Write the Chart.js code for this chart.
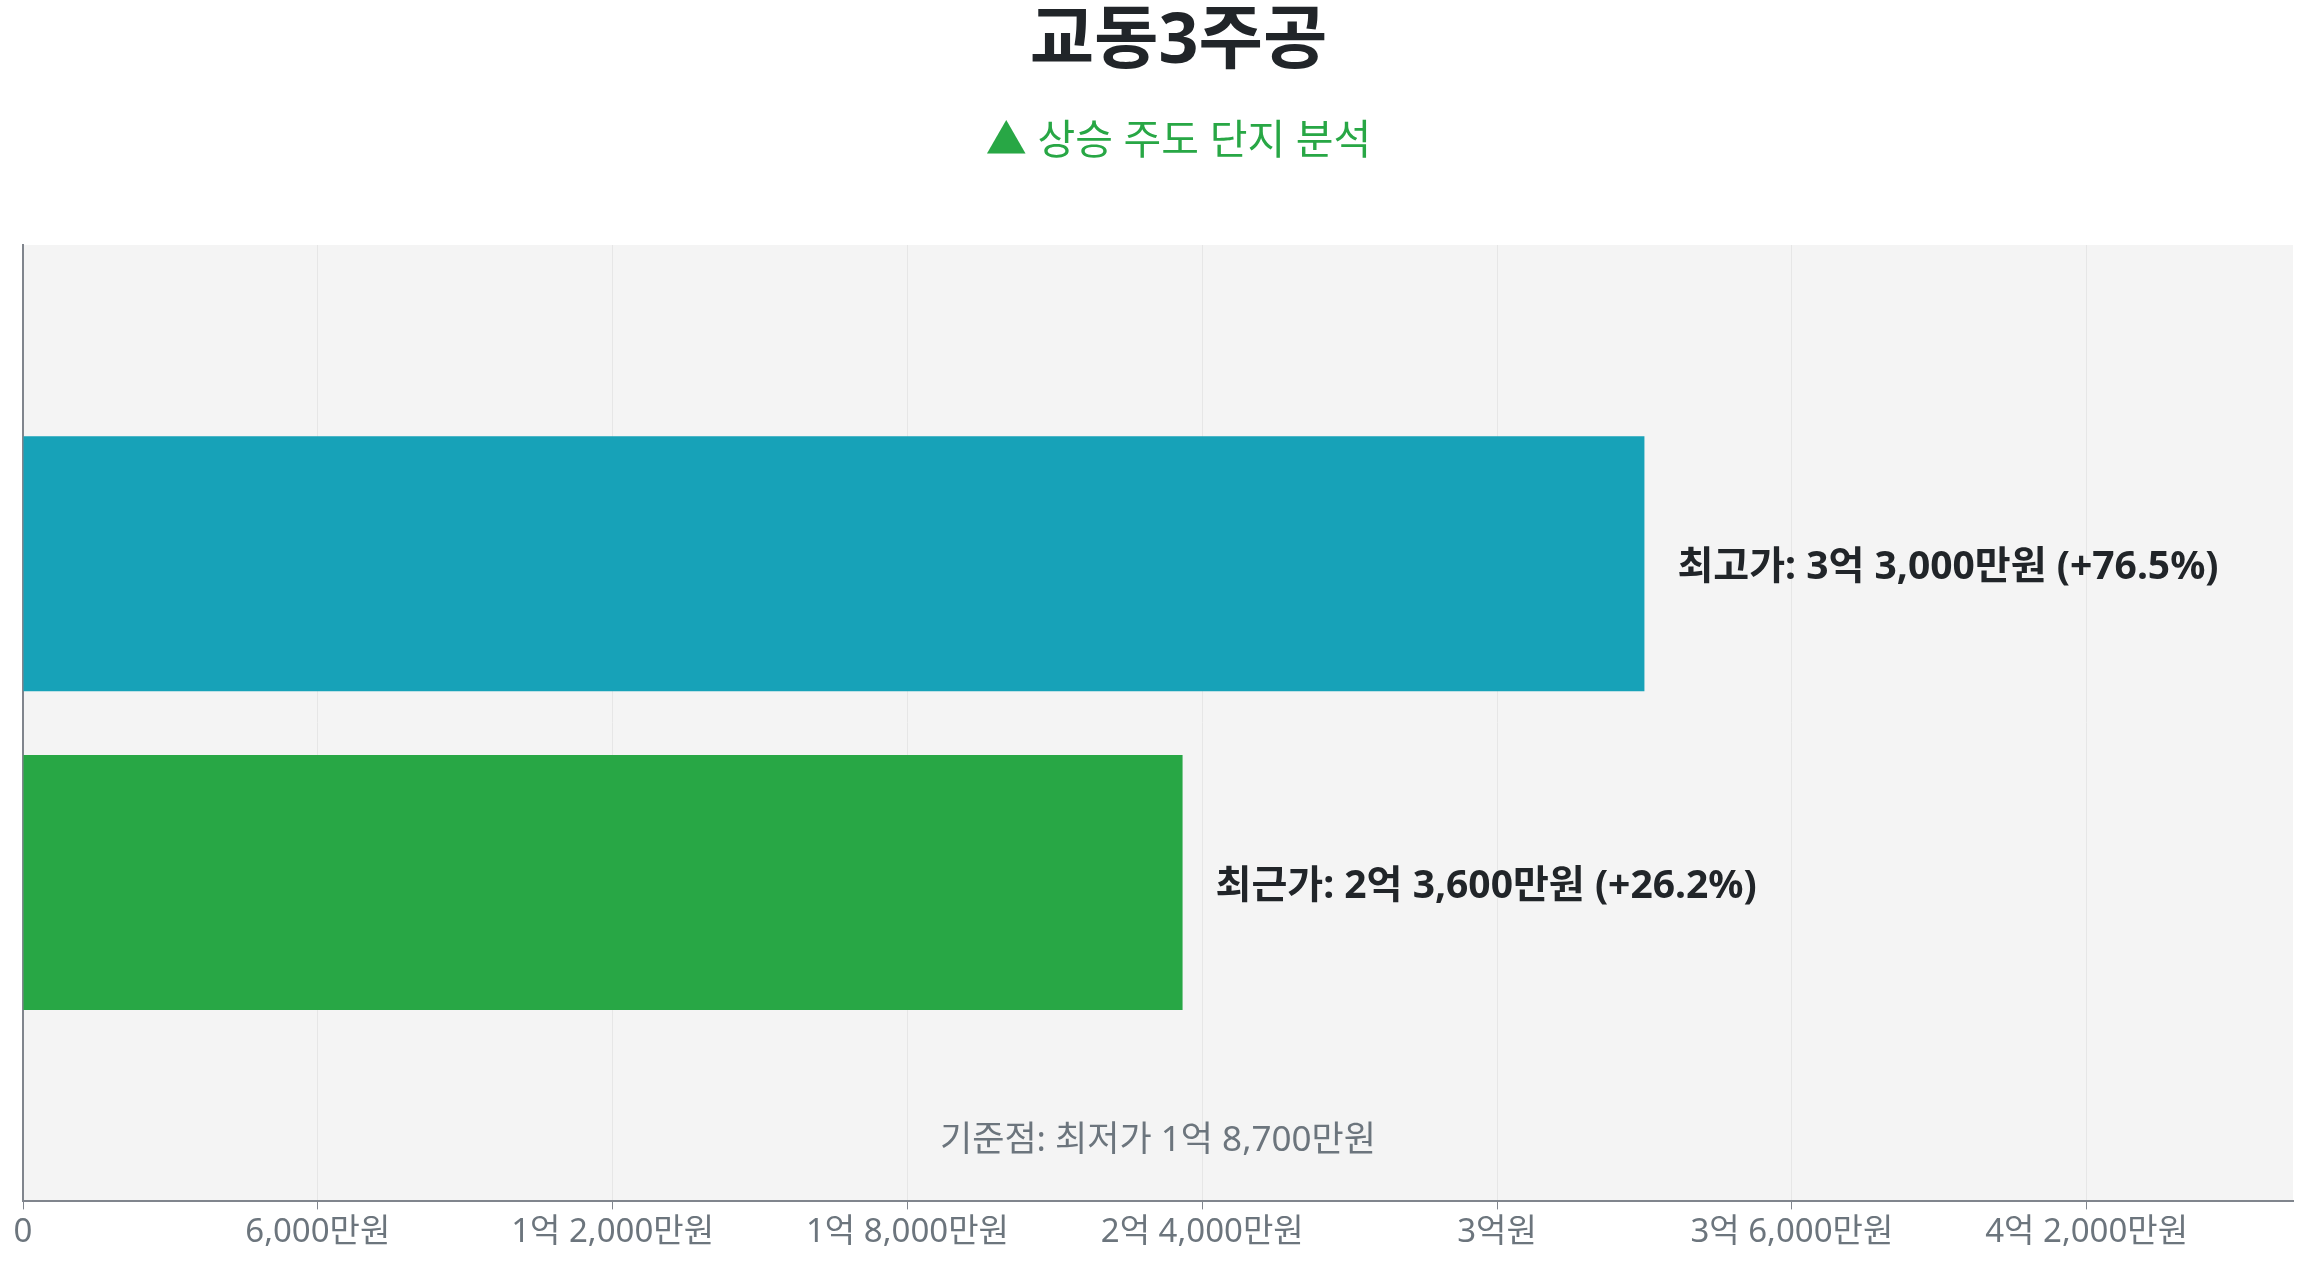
<!DOCTYPE html>
<html lang="ko">
<head>
<meta charset="utf-8">
<title>교동3주공</title>
<script src="https://cdn.jsdelivr.net/npm/chart.js@4.4.1/dist/chart.umd.min.js"></script>
<style>
  html, body { margin: 0; padding: 0; background: #fff; overflow: hidden; }
  #wrap { position: relative; width: 2307px; height: 1268px; }
</style>
</head>
<body>
<div id="wrap"><canvas id="priceChart"></canvas></div>
<script>
// 데이터 (단위: 만원)
const complexName = '교동3주공';
const subtitleText = '▲ 상승 주도 단지 분석';
const categories = ['최고가', '최근가'];
const prices = [33000, 23600];
const barColors = ['#17a2b8', '#28a745'];
const basePrice = 18700;          // 최저가 (기준점)
const axisMax = 46200;
const tickValues = [0, 6000, 12000, 18000, 24000, 30000, 36000, 42000];

const FONT = "'Noto Sans', 'Noto Sans CJK KR', sans-serif";
const GRAY = '#6c757d';
const AXIS = '#80858d';

function formatWon(v) {
    if (v === 0) return '0';
    const eok = Math.floor(v / 10000);
    const man = v % 10000;
    if (eok === 0) return man.toLocaleString('ko-KR') + '만원';
    if (man === 0) return eok + '억원';
    return eok + '억 ' + man.toLocaleString('ko-KR') + '만원';
}

function changePct(v) {
    const p = (v - basePrice) / basePrice * 100;
    return (p >= 0 ? '+' : '') + p.toFixed(1) + '%';
}

// 위아래 여백용 빈 칸을 둔 카테고리
const labels = ['', ...categories, ''];
const data = [null, ...prices, null];
const colors = ['transparent', ...barColors, 'transparent'];

const areaBackground = {
    id: 'areaBackground',
    beforeDraw(chart) {
        const { ctx, chartArea: a } = chart;
        ctx.save();
        ctx.fillStyle = '#f4f4f4';
        ctx.fillRect(a.left, a.top, a.right - a.left, a.bottom - a.top);
        ctx.restore();
    }
};

const headerText = {
    id: 'headerText',
    afterDraw(chart) {
        const ctx = chart.ctx;
        const cx = chart.width / 2 + 25;
        ctx.save();
        ctx.textAlign = 'center';
        ctx.textBaseline = 'middle';
        ctx.fillStyle = '#212529';
        ctx.font = 'bold 70px ' + FONT;
        ctx.fillText(complexName, cx, 43);
        ctx.fillStyle = '#28a745';
        ctx.font = '41px ' + FONT;
        ctx.fillText(subtitleText, cx, 142);
        ctx.restore();
    }
};

const barLabels = {
    id: 'barLabels',
    afterDatasetsDraw(chart) {
        const ctx = chart.ctx;
        const meta = chart.getDatasetMeta(0);
        ctx.save();
        ctx.textAlign = 'left';
        ctx.textBaseline = 'middle';
        ctx.fillStyle = '#212529';
        ctx.font = 'bold 39px ' + FONT;
        meta.data.forEach((bar, i) => {
            const v = data[i];
            if (v == null) return;
            const text = labels[i] + ': ' + formatWon(v) + ' (' + changePct(v) + ')';
            ctx.fillText(text, bar.x + 33, bar.y + 4);
        });
        // 기준점 안내
        const a = chart.chartArea;
        ctx.textAlign = 'center';
        ctx.fillStyle = GRAY;
        ctx.font = '35px ' + FONT;
        ctx.fillText('기준점: 최저가 ' + formatWon(basePrice), (a.left + a.right) / 2, a.bottom - 60);
        ctx.restore();
    }
};

new Chart(document.getElementById('priceChart'), {
    type: 'bar',
    data: {
        labels: labels,
        datasets: [{
            data: data,
            backgroundColor: colors,
            borderWidth: 0,
            barPercentage: 0.8,
            categoryPercentage: 1.0
        }]
    },
    options: {
        indexAxis: 'y',
        responsive: true,
        maintainAspectRatio: false,
        animation: false,
        layout: { padding: { top: 245, left: 23, right: 14, bottom: 13 } },
        plugins: {
            legend: { display: false },
            tooltip: { enabled: false },
            title: { display: false }
        },
        scales: {
            x: {
                min: 0,
                max: axisMax,
                afterBuildTicks(axis) {
                    axis.ticks = tickValues.map(v => ({ value: v }));
                },
                ticks: {
                    color: GRAY,
                    font: { family: FONT, size: 33 },
                    maxRotation: 0,
                    autoSkip: false,
                    callback: (v) => formatWon(v)
                },
                grid: { color: '#e6e6e6', lineWidth: 1, tickColor: AXIS, tickLength: 8 },
                border: { display: true, color: AXIS, width: 2 }
            },
            y: {
                offset: false,
                ticks: { display: false },
                grid: { display: false, drawTicks: false },
                border: { display: true, color: AXIS, width: 2 }
            }
        }
    },
    plugins: [areaBackground, headerText, barLabels]
});
</script>
</body>
</html>
